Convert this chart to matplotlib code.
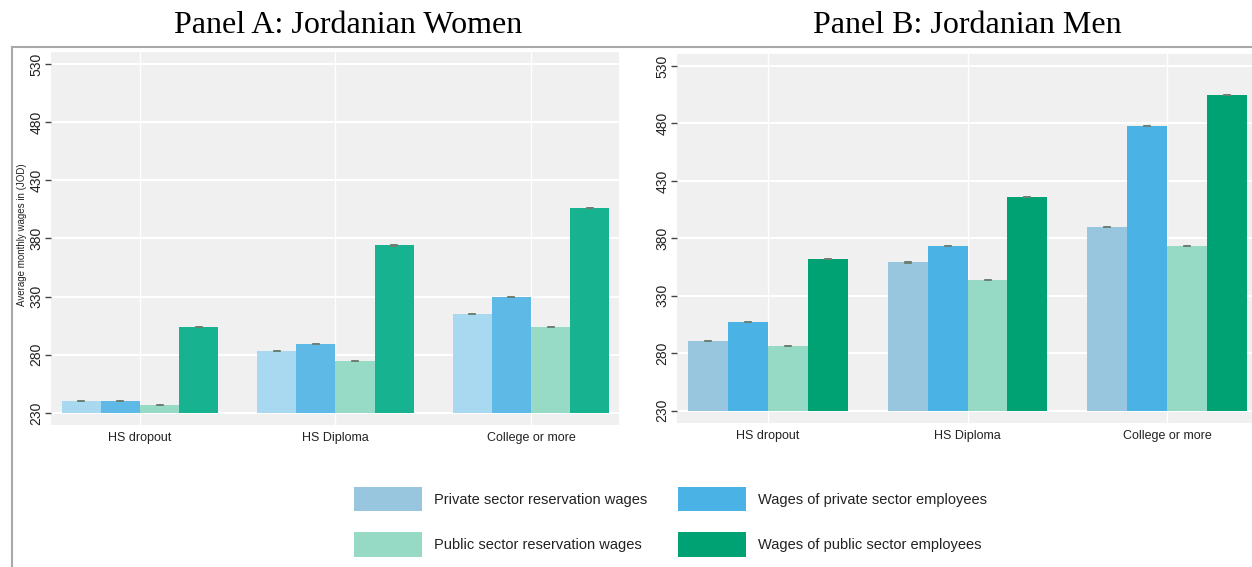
import matplotlib
matplotlib.use("Agg")
import matplotlib.pyplot as plt
import numpy as np
from matplotlib.lines import Line2D
from matplotlib.patches import Patch

categories = ["HS dropout", "HS Diploma", "College or more"]
series_names = ["Private sector reservation wages", "Wages of private sector employees",
                "Public sector reservation wages", "Wages of public sector employees"]

# Panel A: Jordanian Women
women_priv_res = [240, 283, 315]
women_priv_emp = [240, 289, 330]
women_pub_res = [237, 275, 304]
women_pub_emp = [304, 374, 406]
women_err = [0.9, 0.9, 0.9]

# Panel B: Jordanian Men
men_priv_res = [291, 359, 390]
men_priv_emp = [307, 373, 478]
men_pub_res = [286, 343.5, 373]
men_pub_emp = [362, 416, 504.5]
men_err = [0.9, 0.9, 0.9]

yticks = [230, 280, 330, 380, 430, 480, 530]

colors_women = ["#a9d9f1", "#5fb9e7", "#97dbc7", "#17b28f"]
colors_men = ["#99c6df", "#4bb2e5", "#96d9c5", "#00a173"]

W, H = 1252, 567
fig = plt.figure(figsize=(W / 100, H / 100), dpi=100)
plt.rcParams['font.family'] = ['Liberation Sans', 'DejaVu Sans']

axL = fig.add_axes([51 / W, 1 - 425 / H, (619 - 51) / W, (425 - 52) / H])
axR = fig.add_axes([677 / W, 1 - 422.7 / H, (1252 - 677) / W, (422.7 - 54) / H])


def draw(ax, data, errs, colors, xlim):
    ax.set_facecolor("#f0f0f0")
    x = np.arange(len(categories))
    bw = 0.2
    ax.set_axisbelow(True)
    for k, (vals, col) in enumerate(zip(data, colors)):
        xs = x + (k - 1.5) * bw
        heights = np.array(vals) - 230
        ax.bar(xs, heights, width=bw, bottom=230, color=col, edgecolor='none', zorder=2)
        ax.errorbar(xs, vals, yerr=errs, fmt='none', ecolor='#6e7f74', elinewidth=5.5,
                    capsize=0, zorder=3)
    ax.set_xlim(*xlim)
    ax.set_ylim(219.6, 540.4)
    ax.set_yticks(yticks)
    ax.set_yticklabels([str(t) for t in yticks], rotation=90, va='center', fontsize=10, color='#222222')
    ax.set_xticks(x)
    ax.set_xticklabels(categories, fontsize=9, color='#222222')
    ax.tick_params(axis='x', length=0, pad=5)
    ax.tick_params(axis='y', length=4, width=1, color='#444444', pad=1.5)
    for s in ax.spines.values():
        s.set_visible(False)
    ax.grid(True, axis='y', color='white', lw=1.5, zorder=0)
    ax.grid(True, axis='x', color='white', lw=1.0, zorder=0)


draw(axL, [women_priv_res, women_priv_emp, women_pub_res, women_pub_emp], women_err,
     colors_women, (-0.455, 2.45))
draw(axR, [men_priv_res, men_priv_emp, men_pub_res, men_pub_emp], men_err,
     colors_men, (-0.457, 2.426))

axL.set_ylabel("Average monthly wages in (JOD)", fontsize=7, color='#222222', labelpad=1)
axL.yaxis.set_label_coords(-(51 - 27) / (619 - 51), 0.51)

fig.text(348.5 / W, 1 - 33 / H, "Panel A: Jordanian Women", family='Liberation Serif',
         fontsize=23, ha='center', va='baseline', color='black')
fig.text(967 / W, 1 - 33 / H, "Panel B: Jordanian Men", family='Liberation Serif',
         fontsize=23, ha='center', va='baseline', color='black')

# frame lines
fig.add_artist(Line2D([12 / W, 1], [1 - 47 / H, 1 - 47 / H], transform=fig.transFigure,
                      color='#a8a8a8', lw=1.5))
fig.add_artist(Line2D([12 / W, 12 / W], [1 - 47 / H, 0], transform=fig.transFigure,
                      color='#a8a8a8', lw=1.5))

order = [0, 2, 1, 3]
handles = [Patch(facecolor=colors_men[i], edgecolor='none', label=series_names[i]) for i in order]
fs = 10.5
fspx = fs * 100 / 72
fig.legend(handles=handles, ncol=2, loc='upper left',
           bbox_to_anchor=(354 / W, 1 - 487 / H), frameon=False, fontsize=fs,
           handlelength=68 / fspx, handleheight=32 / fspx, handletextpad=12 / fspx,
           columnspacing=31 / fspx, labelspacing=21 / fspx, borderpad=0, borderaxespad=0,
           labelcolor='#222222')

fig.savefig("out.png", dpi=100)
